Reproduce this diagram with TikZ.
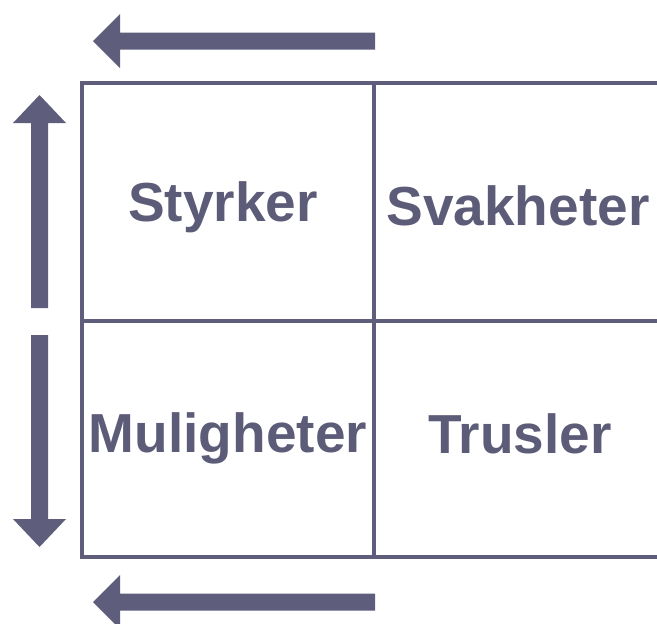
\documentclass[tikz,border=0pt]{standalone}
\usepackage{fontspec}
\setmainfont{Liberation Sans}
\definecolor{ink}{HTML}{5E5E7C}
\definecolor{txt}{HTML}{5C5C78}
\tikzset{
  gridline/.style={draw=ink, line width=3.5pt},
  bigarrow/.style={fill=ink, draw=none},
  label/.style={anchor=base, inner sep=0pt, text=txt, font=\fontsize{55}{60}\selectfont\bfseries}
}
\begin{document}
\begin{tikzpicture}[x=1pt,y=-1pt]
\useasboundingbox (0,0) rectangle (657,624);
\clip (0,0) rectangle (657,624);
% grid
\draw[gridline] (657,83) -- (82,83) -- (82,557) -- (657,557);
\draw[gridline] (374,83) -- (374,557);
\draw[gridline] (82,321) -- (657,321);
% arrows
\fill[bigarrow] (93,41) -- (120,14) -- (120,32.5) -- (375,32.5) -- (375,49.5) -- (120,49.5) -- (120,68) -- cycle;
\fill[bigarrow] (93,602) -- (120,575) -- (120,593.5) -- (375,593.5) -- (375,610.5) -- (120,610.5) -- (120,629) -- cycle;
\fill[bigarrow] (39.5,95) -- (66,123) -- (48,123) -- (48,308) -- (31,308) -- (31,123) -- (13,123) -- cycle;
\fill[bigarrow] (39.5,547) -- (66,519) -- (48,519) -- (48,335) -- (31,335) -- (31,519) -- (13,519) -- cycle;
% labels
\node[label] (s) at (223,221) {Styrker};
\node[label] (w) at (518,225) {Svakheter};
\node[label] (o) at (228,452) {Muligheter};
\node[label] (t) at (520,453) {Trusler};
\end{tikzpicture}
\end{document}
